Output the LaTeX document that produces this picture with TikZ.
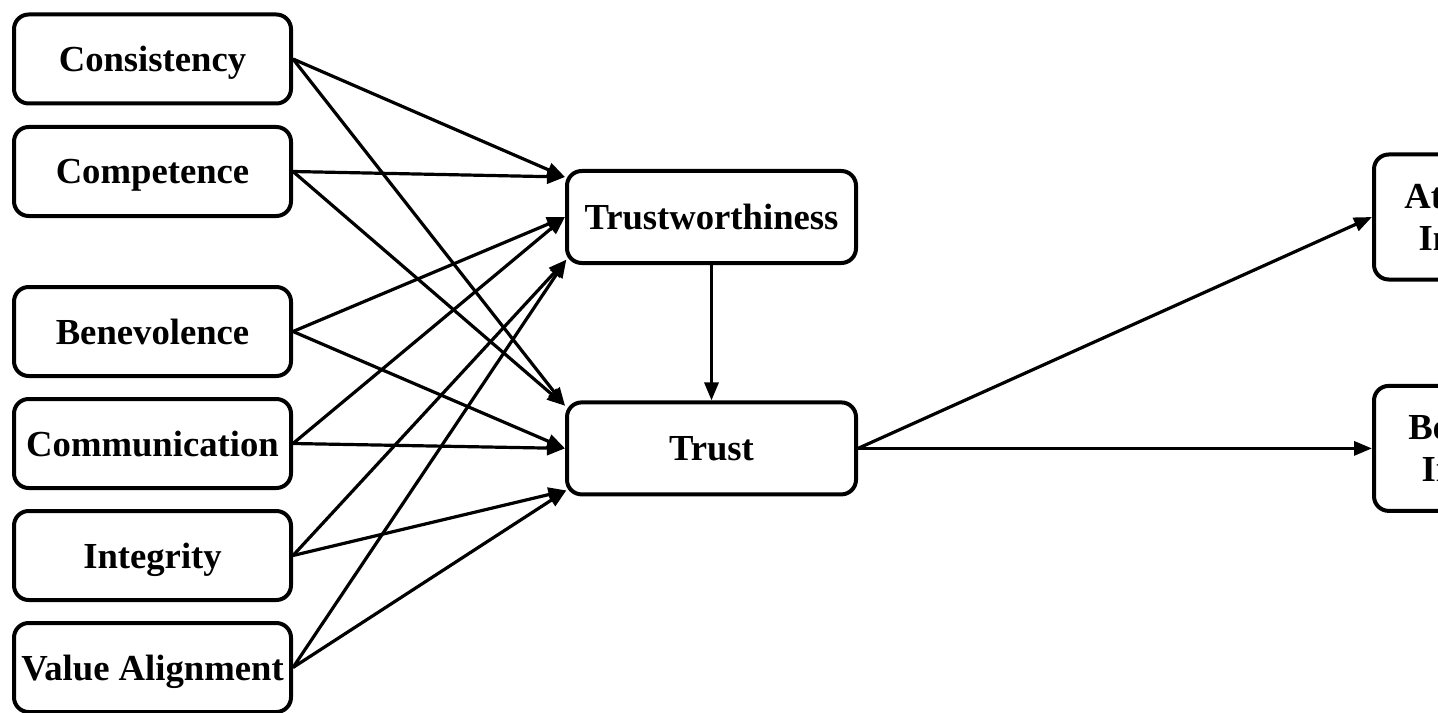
\documentclass[tikz,border=0pt]{standalone}
\usepackage{fontspec}
\setmainfont{Liberation Serif}
\usetikzlibrary{arrows.meta,calc}
\begin{document}
\begin{tikzpicture}[x=0.75pt,y=-0.75pt,
  box/.style={draw=black,line width=3pt,rounded corners=11pt,fill=white,
    font=\fontsize{27.5}{31.5}\selectfont\bfseries,align=center,inner sep=0pt},
  leftbox/.style={box,text depth=0pt,minimum width={277*0.75pt},minimum height={89*0.75pt}},
  midbox/.style={box,text depth=0pt,minimum width={289*0.75pt},minimum height={92*0.75pt}},
  rightbox/.style={box,minimum height={125*0.75pt}},
  conn/.style={line width=2.4pt,-{Triangle[length=13.5pt,width=10.5pt]}}]
\useasboundingbox (0,0) rectangle (1438,713);
\clip (0,0) rectangle (1438,713);

\node[leftbox] (cons) at (152.5,59) {Consistency};
\node[leftbox] (comp) at (152.5,171.5) {Competence};
\node[leftbox] (bene) at (152.5,331.5) {Benevolence};
\node[leftbox] (comm) at (152.5,443.5) {Communication};
\node[leftbox] (inte) at (152.5,555.5) {Integrity};
\node[leftbox] (valu) at (152.5,667.5) {Value Alignment};

\node[midbox] (tw) at (711.5,217) {Trustworthiness};
\node[midbox] (tr) at (711.5,448.4) {Trust};

\node[rightbox,minimum width={234*0.75pt}] (att) at (1491,217) {Attitudinal\\Intention};
\node[rightbox,minimum width={240*0.75pt}] (beh) at (1494,448.4) {Behavioral\\Intention};

% targets on Trustworthiness
\coordinate (twA) at ([yshift=30pt]tw.west);
\coordinate (twB) at (tw.west);
\coordinate (twC) at ([yshift=-32pt,xshift=1pt]tw.west);
% targets on Trust
\coordinate (trA) at ([yshift=32pt]tr.west);
\coordinate (trB) at (tr.west);
\coordinate (trC) at ([yshift=-31.5pt,xshift=1pt]tr.west);

\draw[conn] (cons.east) -- (twA);
\draw[conn] (cons.east) -- (trA);
\draw[conn] (comp.east) -- (twA);
\draw[conn] (comp.east) -- (trA);
\draw[conn] (bene.east) -- (twB);
\draw[conn] (bene.east) -- (trB);
\draw[conn] (comm.east) -- (twB);
\draw[conn] (comm.east) -- (trB);
\draw[conn] (inte.east) -- (twC);
\draw[conn] (inte.east) -- (trC);
\draw[conn] (valu.east) -- (twC);
\draw[conn] (valu.east) -- (trC);

\draw[conn] (tw.south) -- (tr.north);
\draw[conn] (tr.east) -- (att.west);
\draw[conn] (tr.east) -- (beh.west);
\end{tikzpicture}
\end{document}
